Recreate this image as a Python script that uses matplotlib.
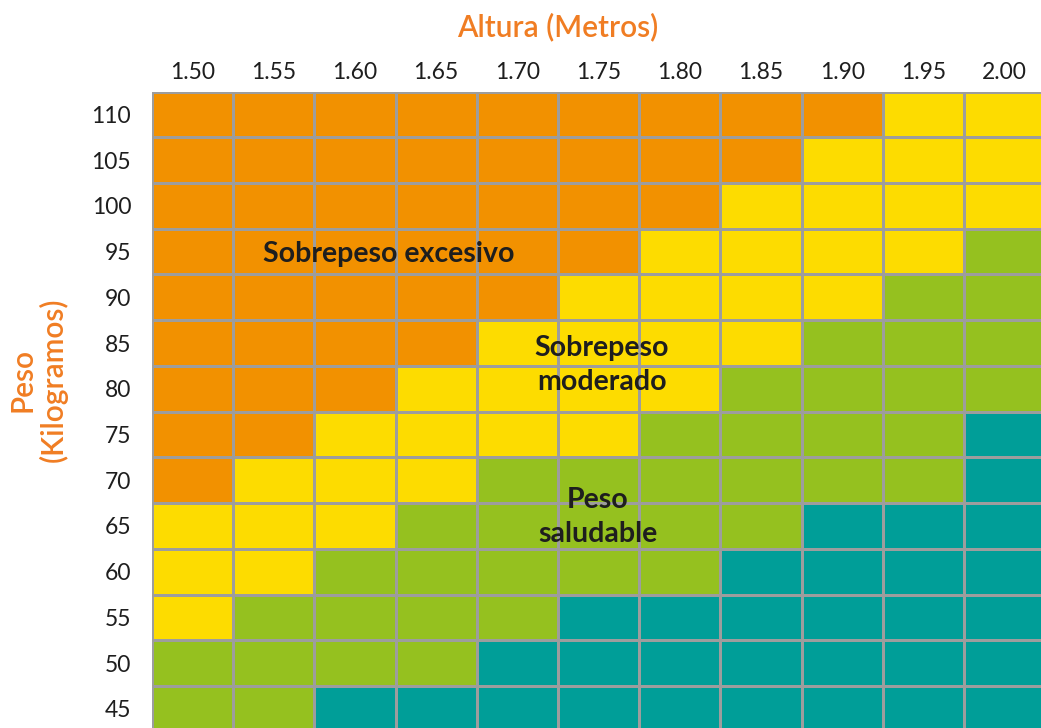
import numpy as np
import matplotlib.pyplot as plt
from matplotlib.colors import ListedColormap

# Height columns (metres) and weight rows (kilograms)
heights = ["1.50", "1.55", "1.60", "1.65", "1.70", "1.75",
           "1.80", "1.85", "1.90", "1.95", "2.00"]
weights = [110, 105, 100, 95, 90, 85, 80, 75, 70, 65, 60, 55, 50, 45]

# Zone of each cell, one string per weight row, one letter per height:
# T = bajo peso, G = peso saludable, Y = sobrepeso moderado, O = sobrepeso excesivo
zones = [
    "OOOOOOOOOYY",
    "OOOOOOOOYYY",
    "OOOOOOOYYYY",
    "OOOOOOYYYYG",
    "OOOOOYYYYGG",
    "OOOOYYYYGGG",
    "OOOYYYYGGGG",
    "OOYYYYGGGGT",
    "OYYYGGGGGGT",
    "YYYGGGGGTTT",
    "YYGGGGGTTTT",
    "YGGGGTTTTTT",
    "GGGGTTTTTTT",
    "GGTTTTTTTTT",
]
zone_order = ["T", "G", "Y", "O"]
zone_colors = ["#009E98", "#95C11F", "#FDDC00", "#F29100"]

zone_names = ["Sobrepeso excesivo", "Sobrepeso\nmoderado", "Peso\nsaludable"]

plt.rcParams["font.family"] = ["Lato", "DejaVu Sans"]

codes = np.array([[zone_order.index(c) for c in row] for row in zones])

fig = plt.figure(figsize=(10.41, 7.28), dpi=100)
W, H = 1041, 728
left, top = 152, 91.5
cw, rh = 81.2, 45.73
ax = fig.add_axes([left / W, 1 - (top + rh * len(weights)) / H,
                   cw * len(heights) / W, rh * len(weights) / H])

ax.pcolormesh(np.arange(len(heights) + 1), np.arange(len(weights) + 1), codes,
              cmap=ListedColormap(zone_colors), vmin=-0.5, vmax=3.5,
              edgecolors="#9D9D9D", linewidth=1.9)
ax.set_xlim(0, len(heights))
ax.set_ylim(len(weights), 0)

ax.set_xticks(np.arange(len(heights)) + 0.5)
ax.set_xticklabels(heights)
ax.set_yticks(np.arange(len(weights)) + 0.5)
ax.set_yticklabels([str(w) for w in weights])
ax.xaxis.tick_top()
ax.tick_params(axis="x", length=0, pad=6, labelsize=16.5, labelcolor="#1E1E1E")
ax.tick_params(axis="y", length=0, pad=15, labelsize=16.5, labelcolor="#1E1E1E")
for s in ax.spines.values():
    s.set_visible(False)

label_style = dict(ha="center", va="center", fontsize=20.5, fontweight="bold",
                   color="#1E1E1E", linespacing=1.4)
ax.text(2.91, 3.55, zone_names[0], **label_style)
ax.text(5.54, 5.98, zone_names[1], **label_style)
ax.text(5.49, 9.3, zone_names[2], **label_style)

orange = "#F07D23"
fig.text(558 / W, 1 - 27 / H, "Altura (Metros)", ha="center", va="center",
         fontsize=21.5, fontweight="semibold", color=orange)
fig.text(38 / W, 1 - 380 / H, "Peso\n(Kilogramos)", ha="center", va="center",
         rotation=90, fontsize=21.5, fontweight="semibold", color=orange,
         linespacing=1.1)

fig.savefig("out.png", dpi=100)
